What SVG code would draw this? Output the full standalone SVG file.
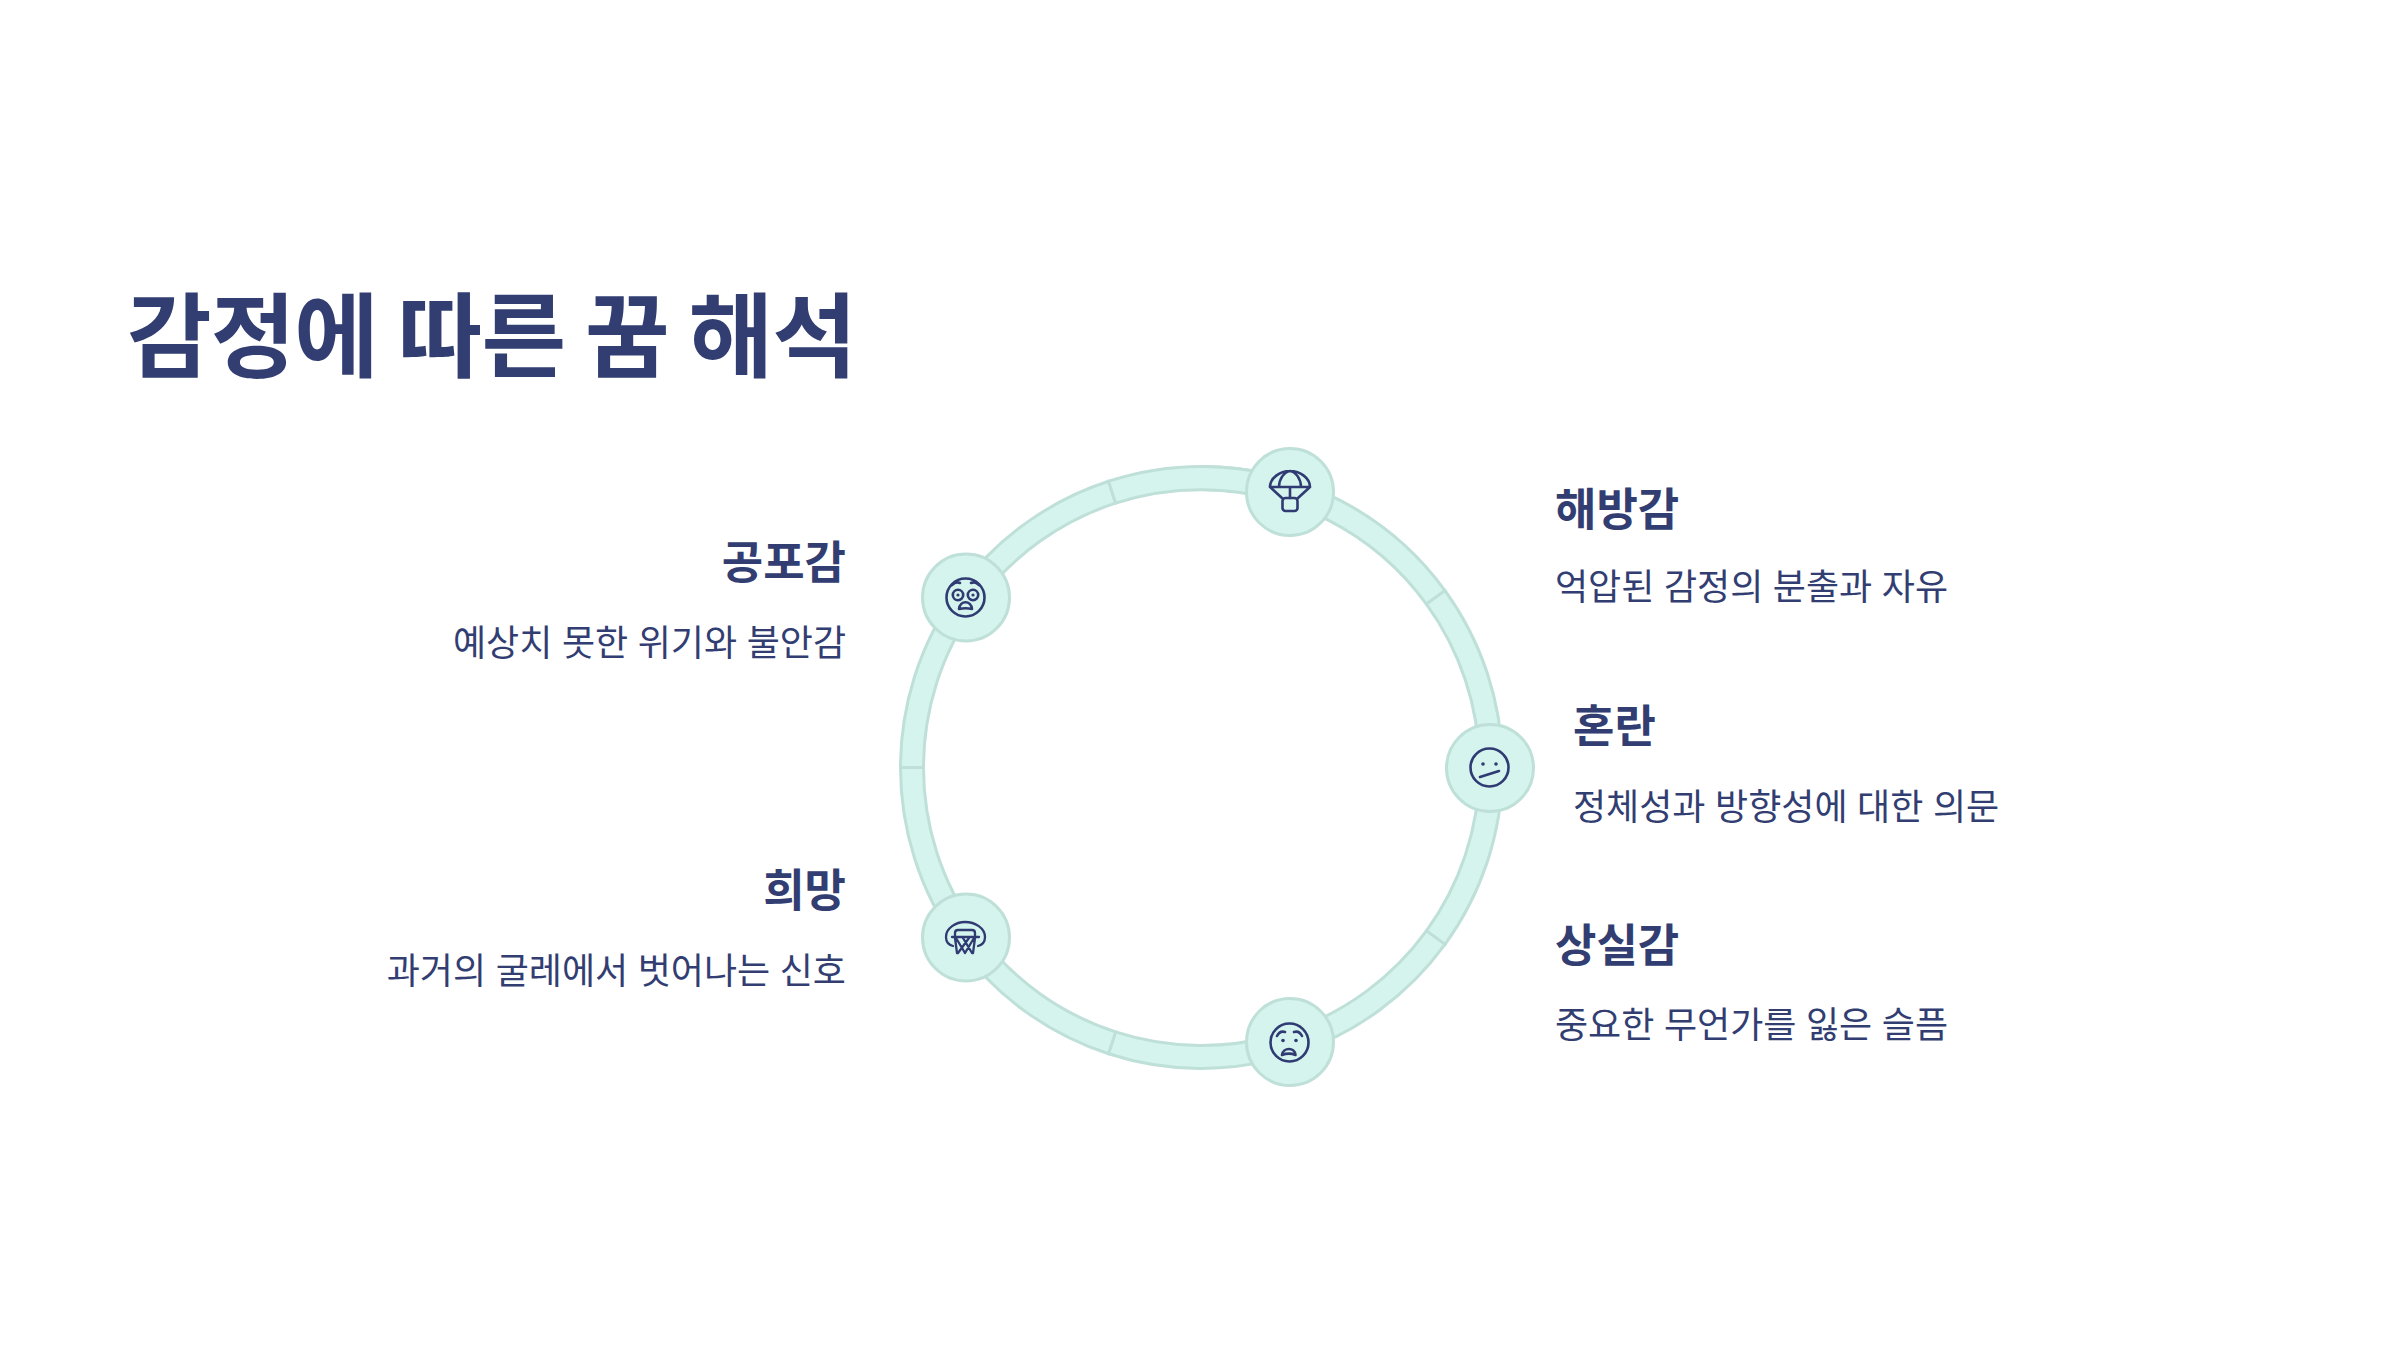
<svg xmlns="http://www.w3.org/2000/svg" width="2400" height="1350" viewBox="0 0 2400 1350">
<style>
text{font-family:"Noto Sans CJK KR","Noto Sans",sans-serif;fill:#323e72}
.t{font-size:92px;font-weight:700;letter-spacing:-1px}
.h{font-size:45px;font-weight:700}
.d{font-size:36px;font-weight:400;word-spacing:1.5px}
.e{text-anchor:end}
.seg{fill:#d4f4ed;stroke:#bfe0d8;stroke-width:3}
.c{fill:#d4f4ed;stroke:#bfe0d8;stroke-width:3}
.i{fill:none;stroke:#2f3b72;stroke-width:2.6;stroke-linecap:round;stroke-linejoin:round}
.f{fill:#2f3b72;stroke:none}
</style>
<rect width="2400" height="1350" fill="#fff"/>
<text class="t" x="127" y="370">감정에 따른 꿈 해석</text>
<g id="connectors">
<path class="seg" d="M1201.500 466.500A301 301 0 0 1 1445 590.600L1426.400 604.100A278 278 0 0 0 1201.500 489.500Z"/>
<path class="seg" d="M1445 590.600A301 301 0 0 1 1445 944.400L1426.400 930.900A278 278 0 0 0 1426.400 604.100Z"/>
<path class="seg" d="M1445 944.400A301 301 0 0 1 1108.500 1053.700L1115.600 1031.900A278 278 0 0 0 1426.400 930.900Z"/>
<path class="seg" d="M1108.500 1053.700A301 301 0 0 1 900.500 767.500L923.500 767.500A278 278 0 0 0 1115.600 1031.900Z"/>
<path class="seg" d="M900.500 767.500A301 301 0 0 1 1108.500 481.300L1115.600 503.100A278 278 0 0 0 923.500 767.500Z"/>
<path class="seg" d="M1108.500 481.300A301 301 0 0 1 1300 483L1292 505A278 278 0 0 0 1115.600 503.100Z"/>
</g>
<g id="node-relief">
<circle class="c" cx="1290" cy="492" r="43.500"/>
<g class="i" transform="translate(1290,492)">
<path d="M-20-5C-20-14-10-21 0-21C10-21 20-14 20-5ZM-11-5C-11-13-6-20 0-21C6-20 11-13 11-5M0-5V6M-20-5L-8 6M20-5L8 6"/>
<rect x="-7.500" y="6" width="15" height="13" rx="3"/>
</g>
<text class="h" x="1555" y="526">해방감</text>
<text class="d" x="1555" y="600">억압된 감정의 분출과 자유</text>
</g>
<g id="node-confusion">
<circle class="c" cx="1490" cy="768" r="43.500"/>
<g class="i" transform="translate(1490,768)">
<circle cx="-0.500" cy="-0.500" r="19"/>
<path d="M-10 9L9 3"/>
<circle class="f" cx="-7" cy="-4" r="1.800"/><circle class="f" cx="6" cy="-4" r="1.800"/>
</g>
<text class="h" x="1573" y="743">혼란</text>
<text class="d" x="1573" y="820">정체성과 방향성에 대한 의문</text>
</g>
<g id="node-loss">
<circle class="c" cx="1290" cy="1042" r="43.500"/>
<g class="i" transform="translate(1290,1042)">
<circle cx="-0.500" cy="0.500" r="19"/>
<path d="M-13-6C-11-10-8-11-5-10M12-6C10-10 7-11 4-10"/>
<path d="M-8 13C-7 5 5 5 5.500 13C2 11.500-4 11.500-8 13Z"/>
<circle class="f" cx="-7" cy="-1.500" r="1.800"/><circle class="f" cx="6" cy="-1.500" r="1.800"/>
</g>
<text class="h" x="1555" y="962">상실감</text>
<text class="d" x="1555" y="1038">중요한 무언가를 잃은 슬픔</text>
</g>
<g id="node-hope">
<circle class="c" cx="966" cy="937.500" r="43.500"/>
<g class="i" transform="translate(966,938)" style="stroke-width:2.300">
<path d="M-13 8C-17 7-20 5-20-1C-20-10-10-16-1-16C9-16 19-10 19-1C19 5 16 7 12 8"/>
<path d="M-11-1V-5C-11-7-10-8-8-8H6C8-8 9-7 9-5V-1M-14-1H13"/>
<path d="M-11 0L-9 15M9 0L7 15M-10 0L-1 15M-3 0L6 15M3 0L-8 15M8 0L-1 15"/>
</g>
<text class="h e" x="846" y="907">희망</text>
<text class="d e" x="846" y="984">과거의 굴레에서 벗어나는 신호</text>
</g>
<g id="node-fear">
<circle class="c" cx="966" cy="597.500" r="43.500"/>
<g class="i" transform="translate(966,598)">
<circle cx="-0.500" cy="-0.500" r="19"/>
<circle cx="-8" cy="-3" r="5.200"/><circle cx="7" cy="-3" r="5.200"/>
<circle class="f" cx="-8" cy="-3" r="1.600"/><circle class="f" cx="7" cy="-3" r="1.600"/>
<path d="M-14-13C-11-16-8-16-6-15M13-13C10-16 7-16 5-15"/>
<path d="M-7 11C-6 2 5 2 6 11C2 10-3 10-7 11Z"/>
</g>
<text class="h e" x="846" y="579">공포감</text>
<text class="d e" x="846" y="656">예상치 못한 위기와 불안감</text>
</g>
</svg>
